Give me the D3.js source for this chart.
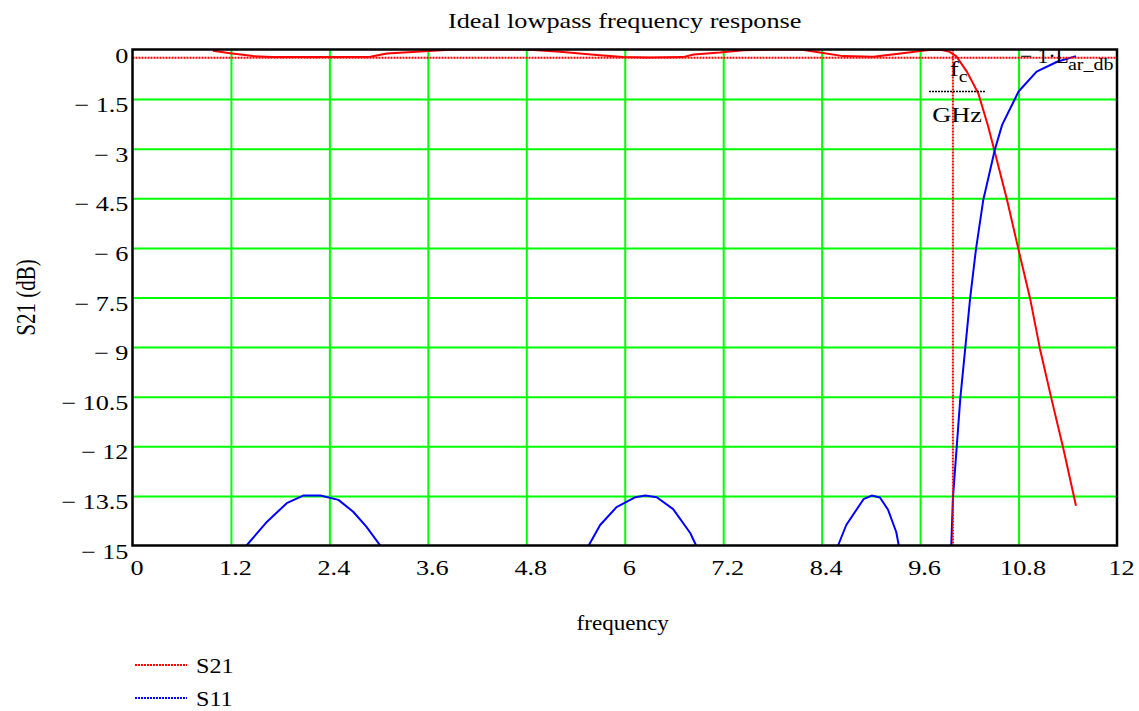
<!DOCTYPE html>
<html>
<head>
<meta charset="utf-8">
<script src="https://cdn.jsdelivr.net/npm/d3@7"></script>
<style>
  html, body { margin: 0; padding: 0; background: #fff; }
  svg { display: block; }
  text { font-family: "Liberation Serif", "DejaVu Serif", serif; fill: #000; }
</style>
</head>
<body>
<svg id="chart" width="1139" height="711"></svg>
<script>
// ---- data ----
const xTicks = [0, 1.2, 2.4, 3.6, 4.8, 6, 7.2, 8.4, 9.6, 10.8, 12];
const xTickLabels = ["0", "1.2", "2.4", "3.6", "4.8", "6", "7.2", "8.4", "9.6", "10.8", "12"];
const yTicks = [0, -1.5, -3, -4.5, -6, -7.5, -9, -10.5, -12, -13.5, -15];
const yTickLabels = ["0", "\u2212 1.5", "\u2212 3", "\u2212 4.5", "\u2212 6", "\u2212 7.5", "\u2212 9",
                     "\u2212 10.5", "\u2212 12", "\u2212 13.5", "\u2212 15"];

// S21 (dB) vs frequency (GHz)
const s21Freq = [0.98, 1.19, 1.47, 1.7, 2.0, 2.4, 2.9, 3.1, 3.46, 3.87, 4.2, 4.8, 5.21, 5.66, 5.98, 6.3,
                 6.71, 6.84, 7.04, 7.16, 7.45, 7.8, 8.14, 8.38, 8.66, 9.03, 9.36, 9.68, 9.84, 9.96,
                 10.04, 10.17, 10.31, 10.43, 10.5, 10.66, 10.8, 10.94, 11.06, 11.2, 11.35, 11.5];
const s21dB   = [-0.04, -0.11, -0.2, -0.23, -0.23, -0.23, -0.22, -0.12, -0.07, -0.01, 0, 0, -0.07, -0.17, -0.23, -0.24,
                 -0.23, -0.15, -0.11, -0.09, -0.02, 0, 0, -0.09, -0.2, -0.22, -0.12, -0.02, 0, -0.07,
                 -0.2, -0.67, -1.33, -2.33, -3.0, -4.55, -6.06, -7.52, -9.04, -10.55, -12.11, -13.8];

// S11 (dB) vs frequency (GHz); null = below the plotted range (gap)
const s11Freq = [1.39, 1.64, 1.88, 2.08, 2.29, 2.51, 2.69, 2.85, 3.02, 4.3,
                 5.56, 5.70, 5.90, 6.13, 6.25, 6.39, 6.59, 6.80, 6.87, 7.7,
                 8.60, 8.70, 8.91, 9.01, 9.11, 9.21, 9.31, 9.34, 9.6,
                 9.98, 10.0, 10.09, 10.15, 10.21, 10.28, 10.37, 10.51, 10.6, 10.8, 11.02, 11.27, 11.5];
const s11dB   = [-15, -14.28, -13.72, -13.49, -13.49, -13.62, -13.98, -14.43, -15, null,
                 -15, -14.38, -13.84, -13.54, -13.49, -13.54, -13.9, -14.63, -15, null,
                 -15, -14.38, -13.6, -13.49, -13.55, -13.92, -14.6, -15, null,
                 -15, -13.57, -10.55, -9.04, -7.52, -6.06, -4.55, -3.04, -2.28, -1.27, -0.67, -0.37, -0.2];

const rippleLevel = -0.25;   // -1·L_ar_db
const cutoffFreq = 10;       // f_c / GHz

const legendNames = ["S21", "S11"];
const seriesColors = ["#ff0000", "#0000ff"];

// ---- layout ----
const svg = d3.select("#chart");
const L = 132.5, R = 1117, T = 49.5, B = 545.5;
const x = d3.scaleLinear().domain([0, 12]).range([L, R]);
const y = d3.scaleLinear().domain([-15, 0]).range([B, T]);
const FS = 21;
const K = 1.25; // horizontal stretch of the reference's lettering

function stretchAt(sel, ox, k) {
  sel.attr("transform", `translate(${ox},0) scale(${k || K},1) translate(${-ox},0)`);
}

// grid
const gridX = svg.append("g").attr("transform", `translate(0,${B})`)
  .call(d3.axisBottom(x).tickValues(xTicks.slice(1, -1)).tickSize(-(B - T)).tickFormat(""));
gridX.select(".domain").remove();
gridX.selectAll("line").attr("stroke", "#00ff00").attr("stroke-width", 2);

const gridY = svg.append("g").attr("transform", `translate(${L},0)`)
  .call(d3.axisLeft(y).tickValues(yTicks.slice(1, -1)).tickSize(-(R - L)).tickFormat(""));
gridY.select(".domain").remove();
gridY.selectAll("line").attr("stroke", "#00ff00").attr("stroke-width", 2);

// clip
svg.append("clipPath").attr("id", "plotclip")
  .append("rect").attr("x", L).attr("y", T).attr("width", R - L).attr("height", B - T);

const plot = svg.append("g").attr("clip-path", "url(#plotclip)");

const line = d3.line()
  .defined(d => d[1] !== null)
  .x(d => x(d[0])).y(d => y(d[1]));

const s21 = s21Freq.map((f, i) => [f, s21dB[i]]);
const s11 = s11Freq.map((f, i) => [f, s11dB[i]]);

plot.append("path").datum(s21).attr("d", line)
  .attr("fill", "none").attr("stroke", seriesColors[0]).attr("stroke-width", 2)
  .attr("stroke-linejoin", "round");
plot.append("path").datum(s11).attr("d", line)
  .attr("fill", "none").attr("stroke", seriesColors[1]).attr("stroke-width", 2)
  .attr("stroke-linejoin", "round");

// marker lines
plot.append("line")
  .attr("x1", L).attr("x2", R).attr("y1", y(rippleLevel)).attr("y2", y(rippleLevel))
  .attr("stroke", "#ff0000").attr("stroke-width", 2).attr("stroke-dasharray", "2,1");
plot.append("line")
  .attr("x1", x(cutoffFreq)).attr("x2", x(cutoffFreq)).attr("y1", T).attr("y2", B)
  .attr("stroke", "#ff0000").attr("stroke-width", 2).attr("stroke-dasharray", "2,1");

// frame
svg.append("rect").attr("x", L).attr("y", T).attr("width", R - L).attr("height", B - T)
  .attr("fill", "none").attr("stroke", "#000").attr("stroke-width", 2.5);

// tick labels
const ax = svg.append("g").attr("transform", `translate(4,${B})`)
  .call(d3.axisBottom(x).tickValues(xTicks).tickSize(0).tickPadding(0)
    .tickFormat((d, i) => xTickLabels[i]));
ax.select(".domain").remove();
ax.attr("font-family", null).attr("font-size", null);
ax.selectAll("text").attr("font-size", FS).attr("font-family", "Liberation Serif")
  .attr("fill", "#000").attr("dy", null).attr("y", 30)
  .attr("transform", `scale(${K},1)`);

const ay = svg.append("g").attr("transform", `translate(${L - 4},12.5)`)
  .call(d3.axisLeft(y).tickValues(yTicks).tickSize(0).tickPadding(0)
    .tickFormat((d, i) => yTickLabels[i]));
ay.select(".domain").remove();
ay.attr("font-family", null).attr("font-size", null);
ay.selectAll("text").attr("font-size", FS).attr("font-family", "Liberation Serif")
  .attr("fill", "#000").attr("dy", null).attr("x", 0)
  .attr("transform", `scale(${K},1)`);

// title and axis titles
const cx = (L + R) / 2;
svg.append("text").attr("x", cx).attr("y", 28).attr("text-anchor", "middle")
  .attr("font-size", FS).text("Ideal lowpass frequency response").call(stretchAt, cx);
svg.append("text").attr("x", cx - 2).attr("y", 630).attr("text-anchor", "middle")
  .attr("font-size", FS).text("frequency").call(stretchAt, cx - 2, 1.1);
svg.append("text")
  .attr("transform", `translate(35,${(T + B) / 2}) rotate(-90) scale(1,${K})`)
  .attr("text-anchor", "middle").attr("font-size", FS).text("S21 (dB)");

// marker labels
svg.append("text").attr("x", 1020).attr("y", 63).attr("font-size", FS)
  .text("\u2212 1\u00b7L").call(stretchAt, 1020, 1.03);
svg.append("text").attr("x", 1068).attr("y", 70).attr("font-size", 16)
  .text("ar_db").call(stretchAt, 1068);

const fc = svg.append("text").attr("x", 950).attr("y", 76).attr("font-size", FS);
fc.append("tspan").text("f");
fc.append("tspan").attr("font-size", 16).attr("dy", 6).text("c");
fc.call(stretchAt, 950);
svg.append("line").attr("x1", 929).attr("x2", 985).attr("y1", 91.5).attr("y2", 91.5)
  .attr("stroke", "#000").attr("stroke-width", 1.5).attr("stroke-dasharray", "2,1");
svg.append("text").attr("x", 957).attr("y", 122).attr("text-anchor", "middle")
  .attr("font-size", FS).text("GHz").call(stretchAt, 957);

// legend
const lg = svg.append("g");
legendNames.forEach((n, i) => {
  const yy = 665 + i * 33;
  lg.append("line").attr("x1", 135).attr("x2", 187).attr("y1", yy).attr("y2", yy)
    .attr("stroke", seriesColors[i]).attr("stroke-width", 2).attr("stroke-dasharray", "2,1");
  lg.append("text").attr("x", 196).attr("y", yy + 8.5).attr("font-size", FS).text(n)
    .call(stretchAt, 196, 1.15);
});
</script>
</body>
</html>
